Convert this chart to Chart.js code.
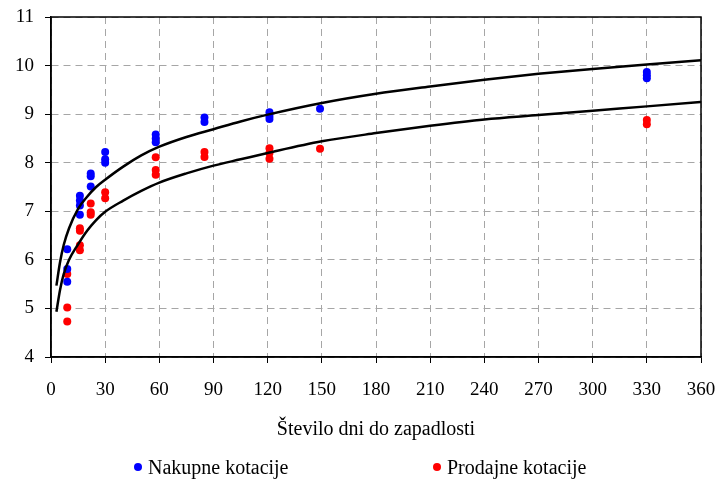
<!DOCTYPE html>
<html>
<head>
<meta charset="utf-8">
<script src="https://cdn.jsdelivr.net/npm/chart.js@4"></script>
<style>
  body { margin: 0; background: #fff; }
  #wrap { position: relative; width: 721px; height: 481px; }
  .leg { position: absolute; top: 455px; font: 20px "Liberation Serif", serif; color: #000; line-height: 24px; white-space: nowrap; }
  .dot { display: inline-block; width: 8px; height: 8px; border-radius: 50%; margin-right: 6px; vertical-align: 3px; }
</style>
</head>
<body>
<div id="wrap">
  <canvas id="rates" width="721" height="481"></canvas>
  <div class="leg" style="left:134px"><span class="dot" style="background:#0000ff"></span>Nakupne kotacije</div>
  <div class="leg" style="left:433px"><span class="dot" style="background:#ff0000"></span>Prodajne kotacije</div>
</div>
<script>
// Data
const buyDays  = [9, 9, 9, 16, 16, 16, 16, 22, 22, 22, 30, 30, 30, 58, 58, 58, 85, 85, 121, 121, 121, 149, 330, 330, 330];
const buyRates = [6.22, 5.81, 5.55, 7.32, 7.22, 7.12, 6.93, 7.78, 7.72, 7.51, 8.22, 8.07, 8.0, 8.58, 8.5, 8.42, 8.93, 8.84, 9.04, 8.96, 8.9, 9.11, 9.87, 9.8, 9.74];

const sellDays  = [9, 9, 9, 16, 16, 16, 16, 22, 22, 22, 30, 30, 58, 58, 58, 85, 85, 121, 121, 121, 149, 330, 330];
const sellRates = [5.71, 5.02, 4.73, 6.65, 6.6, 6.3, 6.2, 7.16, 6.98, 6.93, 7.39, 7.27, 8.11, 7.85, 7.75, 8.22, 8.12, 8.3, 8.2, 8.08, 8.29, 8.88, 8.79];

// trend lines
const fitDays     = [3, 5, 7, 10, 15, 20, 25, 30, 40, 50, 60, 75, 90, 105, 120, 150, 180, 210, 240, 270, 300, 330, 360];
const buyFitRates = [5.47, 5.95, 6.3, 6.65, 7.05, 7.3, 7.5, 7.65, 7.92, 8.15, 8.33, 8.53, 8.69, 8.85, 8.99, 9.23, 9.42, 9.57, 9.71, 9.83, 9.93, 10.02, 10.11];
const sellFitRates = [4.93, 5.38, 5.7, 6.0, 6.32, 6.6, 6.82, 6.99, 7.22, 7.42, 7.59, 7.78, 7.94, 8.07, 8.2, 8.44, 8.61, 8.76, 8.89, 8.98, 9.07, 9.16, 9.25];

const xTicks = [0, 30, 60, 90, 120, 150, 180, 210, 240, 270, 300, 330, 360];
const yTicks = [4, 5, 6, 7, 8, 9, 10, 11];

const pts = (xs, ys) => xs.map((x, i) => ({ x: x, y: ys[i] }));

// box round the plot area, like Excel
const plotBorder = {
  id: 'plotBorder',
  afterDraw(chart) {
    const a = chart.chartArea, c = chart.ctx;
    c.save();
    c.strokeStyle = '#000';
    c.lineWidth = 1.5;
    c.strokeRect(a.left, a.top, a.right - a.left, a.bottom - a.top);
    c.restore();
  }
};

const serif = '"Liberation Serif", "Times New Roman", serif';

new Chart(document.getElementById('rates'), {
  type: 'scatter',
  data: {
    datasets: [
      { label: 'Nakupne kotacije', data: pts(buyDays, buyRates), backgroundColor: '#0000ff', borderWidth: 0, pointRadius: 4, order: 2 },
      { label: 'Prodajne kotacije', data: pts(sellDays, sellRates), backgroundColor: '#ff0000', borderWidth: 0, pointRadius: 4, order: 2 },
      { label: 'fit1', data: pts(fitDays, buyFitRates), type: 'line', showLine: true, borderColor: '#000', borderWidth: 2.5, pointRadius: 0, fill: false, cubicInterpolationMode: 'monotone', order: 1 },
      { label: 'fit2', data: pts(fitDays, sellFitRates), type: 'line', showLine: true, borderColor: '#000', borderWidth: 2.5, pointRadius: 0, fill: false, cubicInterpolationMode: 'monotone', order: 1 }
    ]
  },
  options: {
    responsive: false,
    animation: false,
    layout: { padding: { top: 17, right: 20, left: 0, bottom: 0 } },
    plugins: { legend: { display: false }, tooltip: { enabled: false } },
    scales: {
      x: {
        type: 'linear', min: 0, max: 360,
        afterBuildTicks: s => { s.ticks = xTicks.map(v => ({ value: v })); },
        afterFit: s => { s.height = 124; s.paddingLeft = 0; s.paddingRight = 0; },
        ticks: { color: '#000', padding: 16, font: { family: serif, size: 19 } },
        grid: { color: '#a6a6a6', tickLength: 6, tickColor: '#000', tickBorderDash: [] },
        border: { color: '#000', width: 1.5, dash: [7, 5] },
        title: { display: true, text: 'Število dni do zapadlosti', color: '#000', padding: { top: 0, bottom: 39 }, font: { family: serif, size: 20 } }
      },
      y: {
        min: 4, max: 11,
        afterBuildTicks: s => { s.ticks = yTicks.map(v => ({ value: v })); },
        afterFit: s => { s.width = 51; s.paddingTop = 0; s.paddingBottom = 0; },
        ticks: { color: '#000', padding: 11, font: { family: serif, size: 19 } },
        grid: { color: '#a6a6a6', tickLength: 6, tickColor: '#000', tickBorderDash: [] },
        border: { color: '#000', width: 1.5, dash: [7, 5] }
      }
    }
  },
  plugins: [plotBorder]
});
</script>
</body>
</html>
